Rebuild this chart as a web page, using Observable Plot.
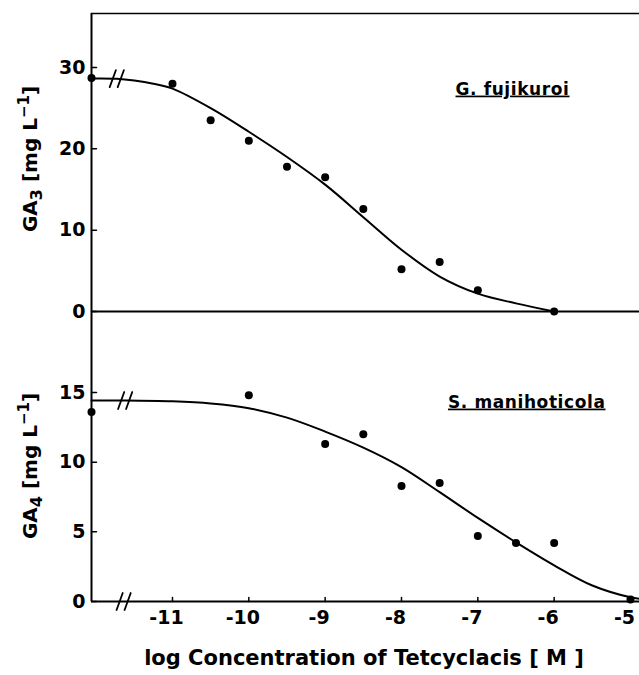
<!DOCTYPE html>
<html><head><meta charset="utf-8">
<script src="https://cdn.jsdelivr.net/npm/d3@7"></script>
<script src="https://cdn.jsdelivr.net/npm/@observablehq/plot@0.6"></script>
<style>
body{margin:0;background:#fff}
#chart{position:relative;width:639px;height:675px;}
#chart svg{position:absolute;left:0;overflow:visible;background:none}
</style></head><body><div id="chart"></div>
<script>
// ---- data ----
const xTicks = [-11, -10, -9, -8, -7, -6, -5];
const topTicks = [0, 10, 20, 30];
const bottomTicks = [0, 5, 10, 15];
const xDomain = [-12.061, -4.882];
const topYMax = 36.64;
const bottomYMax = 20.82;

// G. fujikuroi, GA3 (mg/L)
const fujiX = [-12.061, -11, -10.5, -10, -9.5, -9, -8.5, -8, -7.5, -7, -6];
const fujiY = [28.7, 28.0, 23.5, 21.0, 17.8, 16.5, 12.6, 5.2, 6.1, 2.6, 0];
const fujiFitX = [-12.061, -11.73, -11.5, -11.25, -11, -10.5, -10, -9.5, -9, -8.5, -8, -7.5, -7, -6.5, -6];
const fujiFitY = [28.65, 28.62, 28.4, 28.0, 27.4, 25.0, 22.1, 19.0, 15.6, 11.6, 7.6, 4.3, 2.2, 1.0, 0];
const fujiBreakX = [-11.73];
const fujiBreakY = [28.63];

// S. manihoticola, GA4 (mg/L)
const maniX = [-12.061, -10, -9, -8.5, -8, -7.5, -7, -6.5, -6, -5];
const maniY = [13.6, 14.8, 11.3, 12.0, 8.3, 8.5, 4.7, 4.2, 4.2, 0.15];
const maniFitX = [-12.061, -11.62, -11, -10.5, -10, -9.5, -9, -8.5, -8, -7.5, -7, -6.5, -6, -5.5, -5, -4.882];
const maniFitY = [14.43, 14.43, 14.37, 14.22, 13.88, 13.2, 12.2, 11.05, 9.65, 7.85, 6.0, 4.25, 2.6, 1.15, 0.3, 0.2];
const maniBreakX = [-11.62, -11.64];
const maniBreakY = [14.43, 0];

const pts = (xs, ys) => xs.map((x, i) => ({x, y: ys[i]}));
const slash = {draw(context, l) { context.moveTo(0, l / 2); context.lineTo(0, -l / 2); }};
const stick = {draw(context, l) { context.moveTo(0, 0); context.lineTo(0, -l); }};
const FONT = "DejaVu Sans";

const baseStyle = {fontFamily: FONT, fontWeight: "bold", fontSize: "19px", color: "#000", background: "none", overflow: "visible"};

function breaks(data) {
  return [-4, 4].map(dx => Plot.vector(data, {x: "x", y: "y", length: 18, rotate: 20, shape: slash, anchor: "start", dx, strokeWidth: 1.8}));
}
function yTickMarks(ticks) {
  return Plot.vector(ticks, {y: d => d, frameAnchor: "left", rotate: 90, length: 5, shape: stick, anchor: "start", strokeWidth: 1.5});
}

const topPlot = Plot.plot({
  width: 639, height: 312,
  marginTop: 13, marginBottom: 1, marginLeft: 91, marginRight: 0,
  x: {domain: xDomain, axis: null},
  y: {domain: [0, topYMax], axis: null},
  style: baseStyle,
  marks: [
    Plot.ruleY([topYMax], {strokeWidth: 1.5}),
    Plot.ruleX([xDomain[0]], {strokeWidth: 2}),
    Plot.ruleY([0], {strokeWidth: 2}),
    yTickMarks(topTicks),
    Plot.axisY(topTicks, {tickSize: 0, tickPadding: 6, label: null}),
    Plot.line(pts(fujiFitX, fujiFitY), {x: "x", y: "y", curve: "catmull-rom", strokeWidth: 2}),
    ...breaks(pts(fujiBreakX, fujiBreakY)),
    Plot.dot(pts(fujiX, fujiY), {x: "x", y: "y", r: 4, fill: "#000"}),
    Plot.text(["G. fujikuroi"], {frameAnchor: "top-right", textAnchor: "end", dx: -70, dy: 69, fontSize: 17, fontWeight: "bold"})
  ]
});

const bottomPlot = Plot.plot({
  width: 639, height: 364,
  marginTop: 0, marginBottom: 74, marginLeft: 91, marginRight: 0,
  x: {domain: xDomain, axis: null},
  y: {domain: [0, bottomYMax], axis: null},
  style: baseStyle,
  marks: [
    Plot.ruleX([xDomain[0]], {strokeWidth: 2}),
    Plot.ruleY([0], {strokeWidth: 2}),
    yTickMarks(bottomTicks),
    Plot.axisY(bottomTicks, {tickSize: 0, tickPadding: 6, label: null}),
    Plot.vector(xTicks, {x: d => d, frameAnchor: "bottom", length: 4, shape: stick, anchor: "start", strokeWidth: 1.5}),
    Plot.axisX(xTicks, {tickSize: 0, tickPadding: 9, dx: -6, tickFormat: d => `${d}`, label: null}),
    Plot.line(pts(maniFitX, maniFitY), {x: "x", y: "y", curve: "catmull-rom", strokeWidth: 2}),
    ...breaks(pts(maniBreakX, maniBreakY)),
    Plot.dot(pts(maniX, maniY), {x: "x", y: "y", r: 4, fill: "#000"}),
    Plot.text(["S. manihoticola"], {frameAnchor: "top-right", textAnchor: "end", dx: -34, dy: 84, fontSize: 17, fontWeight: "bold"})
  ]
});

const chart = document.getElementById("chart");
topPlot.style.top = "0px";
bottomPlot.style.top = "311px";
chart.appendChild(topPlot);
chart.appendChild(bottomPlot);

for (const svg of [topPlot, bottomPlot]) {
  d3.select(svg).selectAll('g[aria-label="text"] text')
    .style("text-decoration", "underline")
    .style("text-decoration-thickness", "2px")
    .style("text-underline-offset", "3px")
    .style("letter-spacing", "0.6px");
}

function yTitle(svg, cy, sub) {
  const t = d3.select(svg).append("text")
    .attr("transform", `translate(37,${cy}) rotate(-90)`)
    .attr("text-anchor", "middle")
    .attr("font-family", FONT).attr("font-weight", "bold").attr("font-size", 20)
    .attr("fill", "#000");
  t.append("tspan").text("GA");
  t.append("tspan").attr("dy", 5).attr("font-size", 16).text(sub);
  t.append("tspan").attr("dy", -5).text(" [mg L");
  t.append("tspan").attr("dy", -8).attr("font-size", 15).text("\u22121");
  t.append("tspan").attr("dy", 8).text("]");
}
yTitle(topPlot, 159, "3");
yTitle(bottomPlot, 155, "4");

d3.select(bottomPlot).append("text")
  .attr("x", 364).attr("y", 354)
  .attr("text-anchor", "middle")
  .attr("font-family", FONT).attr("font-weight", "bold").attr("font-size", 21)
  .attr("fill", "#000")
  .text("log Concentration of Tetcyclacis [ M ]");
</script></body></html>
